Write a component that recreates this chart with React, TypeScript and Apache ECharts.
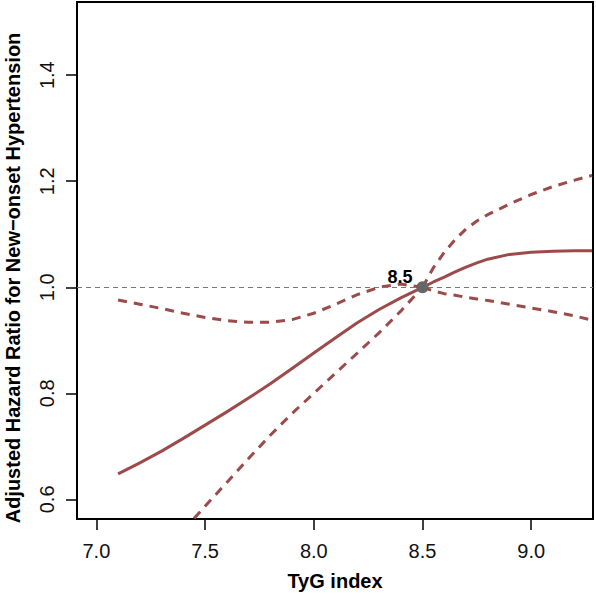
import React, { useEffect, useRef } from "react";
import * as echarts from "echarts";

// TyG index grid, left of the reference value (x)
const tygLeft = [7.1, 7.2, 7.3, 7.4, 7.5, 7.6, 7.7, 7.8, 7.9, 8.0, 8.1, 8.2, 8.3, 8.4, 8.5];
// TyG index grid, right of the reference value (x)
const tygRight = [8.5, 8.55, 8.6, 8.65, 8.7, 8.75, 8.8, 8.9, 9.0, 9.1, 9.2, 9.28];

// Adjusted HR estimate
const hrEstimateLeft = [0.648, 0.669, 0.691, 0.715, 0.740, 0.765, 0.791, 0.818, 0.847, 0.876, 0.905, 0.933, 0.958, 0.980, 1.000];
const hrEstimateRight = [1.000, 1.010, 1.019, 1.029, 1.038, 1.046, 1.053, 1.062, 1.066, 1.068, 1.069, 1.069];
// 95% CI upper bound
const hrUpperLeft = [0.976, 0.968, 0.960, 0.951, 0.943, 0.937, 0.934, 0.934, 0.939, 0.951, 0.968, 0.986, 1.000, 1.006, 1.000];
const hrUpperRight = [1.000, 1.037, 1.066, 1.090, 1.110, 1.125, 1.137, 1.157, 1.175, 1.190, 1.202, 1.211];
// 95% CI lower bound
const hrLowerLeft = [null, null, null, 0.542, 0.587, 0.632, 0.677, 0.721, 0.762, 0.800, 0.838, 0.876, 0.914, 0.955, 1.000];
const hrLowerRight = [1.000, 0.993, 0.988, 0.985, 0.981, 0.978, 0.975, 0.968, 0.961, 0.954, 0.946, 0.938];

// reference point
const refX = 8.5;
const refHR = 1.0;
// tick labels
const xTicks = [7.0, 7.5, 8.0, 8.5, 9.0];
const yTicks = [0.6, 0.8, 1.0, 1.2, 1.4];

const FONT = "'Liberation Sans', Arial, Helvetica, sans-serif";
const RED = "#9c4a4a";

export default function App() {
  const ref = useRef<HTMLDivElement>(null);
  useEffect(() => {
    const chart = echarts.init(ref.current!, null, { renderer: "svg" });
    const pairs = (xs: number[], ys: (number | null)[]) => xs.map((x, i) => [x, ys[i]]);
    const estimate = pairs(tygLeft, hrEstimateLeft).concat(pairs(tygRight, hrEstimateRight).slice(1));
    const dashed = { color: RED, width: 3, type: [9, 7], join: "round" };
    const ciSeries = (data: any[]) => ({
      type: "line",
      data,
      showSymbol: false,
      smooth: false,
      connectNulls: false,
      lineStyle: dashed,
      z: 2,
    });
    chart.setOption({
      animation: false,
      backgroundColor: "#fff",
      grid: { left: 77, right: 3, top: 2, bottom: 78, show: true, borderColor: "#000", borderWidth: 2, backgroundColor: "transparent" },
      xAxis: {
        type: "value",
        min: 6.911,
        max: 9.284,
        splitLine: { show: false },
        axisLine: { show: true, lineStyle: { color: "#000", width: 2 } },
        axisTick: { show: true, length: 11, customValues: xTicks, lineStyle: { color: "#000", width: 1.5 } },
        axisLabel: { customValues: xTicks, formatter: (v: number) => v.toFixed(1), fontFamily: FONT, fontSize: 20, color: "#111", margin: 22 },
        name: "TyG index",
        nameLocation: "middle",
        nameGap: 52,
        nameTextStyle: { fontFamily: FONT, fontSize: 20, fontWeight: "bold", color: "#000" },
      },
      yAxis: {
        type: "value",
        min: 0.563,
        max: 1.538,
        splitLine: { show: false },
        axisLine: { show: true, lineStyle: { color: "#000", width: 2 } },
        axisTick: { show: true, length: 11, customValues: yTicks, lineStyle: { color: "#000", width: 1.5 } },
        axisLabel: { customValues: yTicks, rotate: 90, formatter: (v: number) => v.toFixed(1), fontFamily: FONT, fontSize: 20, color: "#111", margin: 20 },
      },
      graphic: [
        {
          type: "text",
          x: 13,
          y: 278,
          rotation: Math.PI / 2,
          style: {
            text: "Adjusted Hazard Ratio for New\u2212onset Hypertension",
            fontFamily: FONT,
            fontSize: 20,
            fontWeight: "bold",
            fill: "#000",
            textAlign: "center",
            textVerticalAlign: "middle",
          },
        },
      ],
      series: [
        {
          type: "line",
          data: estimate,
          showSymbol: false,
          smooth: false,
          lineStyle: { color: RED, width: 3, join: "round" },
          markLine: {
            silent: true,
            symbol: "none",
            label: { show: false },
            lineStyle: { color: "#777", width: 1, type: [5, 4] },
            data: [{ yAxis: refHR }],
          },
          z: 3,
        },
        ciSeries(pairs(tygLeft, hrUpperLeft)),
        ciSeries(pairs(tygRight, hrUpperRight)),
        ciSeries(pairs(tygLeft, hrLowerLeft)),
        ciSeries(pairs(tygRight, hrLowerRight)),
        {
          type: "scatter",
          data: [[refX, refHR]],
          symbolSize: 12,
          itemStyle: { color: "#666", opacity: 1 },
          label: {
            show: true,
            formatter: () => refX.toFixed(1),
            position: "left",
            distance: 4,
            offset: [0, -10],
            fontFamily: FONT,
            fontSize: 18,
            fontWeight: "bold",
            color: "#000",
          },
          z: 10,
        },
      ],
    });
    return () => chart.dispose();
  }, []);
  return <div ref={ref} style={{ width: 596, height: 597, position: "absolute", left: 0, top: 0 }} />;
}
